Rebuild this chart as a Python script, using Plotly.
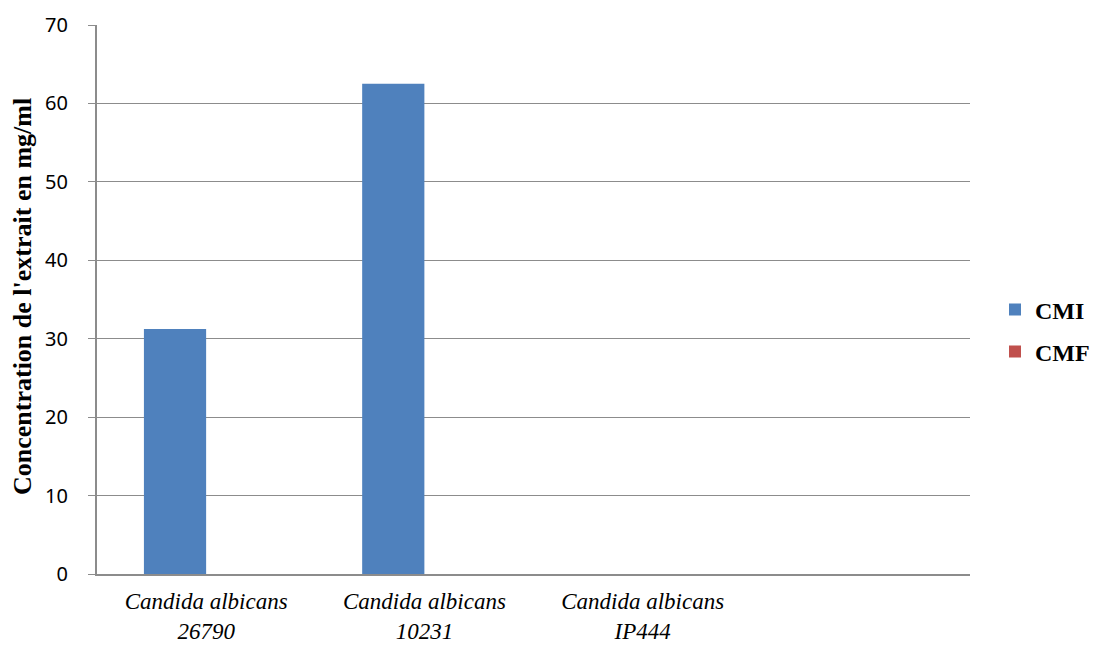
import plotly.graph_objects as go

categories = ["Candida albicans<br>26790", "Candida albicans<br>10231", "Candida albicans<br>IP444", " "]
cmi = [31.25, 62.5, 0, None]
cmf = [0, 0, 0, None]
y_ticks = [0, 10, 20, 30, 40, 50, 60, 70]

fig = go.Figure()
fig.add_trace(go.Bar(name="CMI", x=categories, y=cmi, legendgroup="a",
                     marker=dict(color="#4F81BD", line=dict(width=0))))
fig.add_trace(go.Bar(name="CMF", x=categories, y=cmf, legendgroup="b",
                     marker=dict(color="#C0504D", line=dict(width=0))))

grid = "#8C8C8C"
fig.update_layout(
    width=1099, height=646,
    margin=dict(l=97, r=129, t=25, b=72, autoexpand=False),
    paper_bgcolor="white", plot_bgcolor="white",
    barmode="group", bargap=0.43, bargroupgap=0,
    showlegend=True,
    legend=dict(x=(995 - 97) / 873, y=0.443, xanchor="left", yanchor="middle",
                font=dict(family="Liberation Serif", size=24, color="black", weight="bold"),
                itemwidth=30, tracegroupgap=8, bgcolor="rgba(0,0,0,0)"),
    xaxis=dict(type="category", categoryorder="array", categoryarray=categories,
               showline=True, linecolor=grid, linewidth=2, showgrid=False, ticks="",
               tickfont=dict(family="Liberation Serif", size=23, color="black", style="italic"),
               ticklabelstandoff=5, fixedrange=True, automargin=False),
    yaxis=dict(range=[0, 70], tickvals=y_ticks, showgrid=True, gridcolor=grid, gridwidth=1,
               showline=True, linecolor=grid, linewidth=2, ticks="outside", ticklen=7,
               tickcolor=grid, tickwidth=1, zeroline=False, automargin=False,
               tickfont=dict(family="Noto Sans", size=20, color="black"),
               ticklabelstandoff=16),
    annotations=[dict(text="Concentration de l'extrait en mg/ml", textangle=-90,
                      xref="paper", yref="paper", x=(22 - 97) / 873, y=(574 - 297) / 549,
                      xanchor="center", yanchor="middle", showarrow=False,
                      font=dict(family="Liberation Serif", size=26, color="black", weight="bold"))],
)

fig.write_html("out.html")
